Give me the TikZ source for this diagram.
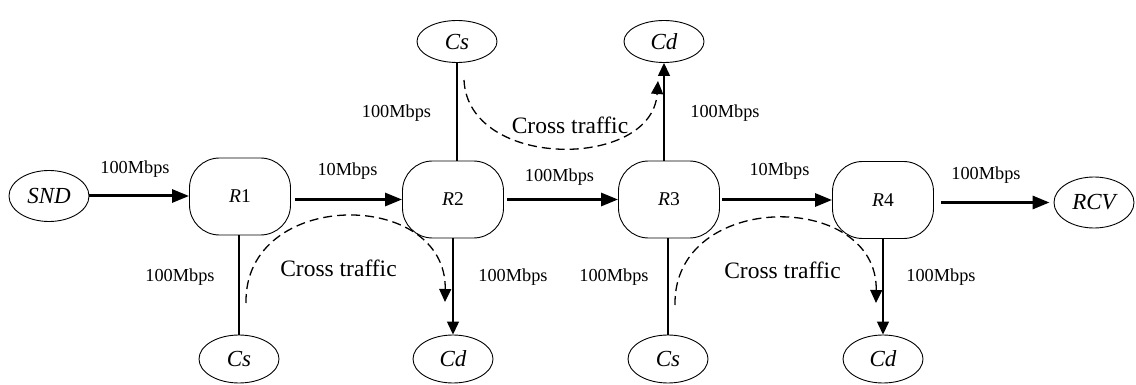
\documentclass[tikz,border=0pt]{standalone}
\usepackage{fontspec}
\setmainfont{Liberation Serif}
\usetikzlibrary{shapes.geometric,arrows.meta}
\begin{document}
\begin{tikzpicture}[x=1pt,y=-1pt,
  ell/.style={draw,ellipse,line width=0.9pt,minimum width=80pt,minimum height=#1,inner sep=0pt,font=\fontsize{23}{26}\selectfont\itshape},
  ell/.default=46pt,
  router/.style={draw,rounded corners=30pt,line width=0.9pt,minimum width=101pt,minimum height=77pt,inner sep=0pt,font=\fontsize{19.5}{22}\selectfont},
  rate/.style={inner sep=0pt,font=\fontsize{18.3}{21}\selectfont},
  cross/.style={inner sep=0pt,font=\fontsize{23.5}{26}\selectfont},
  link/.style={line width=3pt,-{Triangle[length=17pt,width=13pt]}},
  vlink/.style={line width=1.3pt},
  varrow/.style={line width=1.3pt,-{Triangle[length=13pt,width=12pt]}},
  traffic/.style={line width=1.3pt,dash pattern=on 9pt off 5pt,-{Triangle[length=13pt,width=12pt]}}
]
\useasboundingbox (0,0) rectangle (1136,385);

% nodes
\node[ell=51pt] (snd) at (49,196) {SND};
\node[router] (r1) at (240,196.5) {\textit{R}1};
\node[router] (r2) at (453,199.5) {\textit{R}2};
\node[router] (r3) at (669,199.5) {\textit{R}3};
\node[router] (r4) at (883,200) {\textit{R}4};
\node[ell=51pt] (rcv) at (1094,202.5) {RCV};
\node[ell=42pt] (cst) at (457,41.5) {Cs};
\node[ell=42pt] (cdt) at (664,41.5) {Cd};
\node[ell=48pt] (csb1) at (239,359) {Cs};
\node[ell=48pt] (cdb1) at (453,359) {Cd};
\node[ell=48pt] (csb2) at (668,359) {Cs};
\node[ell=48pt] (cdb2) at (883,359) {Cd};

% main path
\draw[link] (snd.east) -- (snd.east -| r1.west);
\draw[link,shorten <=4pt] (r1.east |- r2.west) -- (r2.west);
\draw[link,shorten <=3pt] (r2.east) -- (r3.west |- r2.east);
\draw[link,shorten <=2pt] (r3.east |- r4.west) -- (r4.west);
\draw[link,shorten <=7pt,shorten >=4pt] (r4.east |- rcv.west) -- (rcv.west);

% cross links
\draw[vlink] (cst.south) -- (cst.south |- r2.north);
\draw[varrow] (cdt.south |- r3.north) -- (cdt.south);
\draw[vlink] (csb1.north |- r1.south) -- (csb1.north);
\draw[varrow] (cdb1.north |- r2.south) -- (cdb1.north);
\draw[vlink] (csb2.north |- r3.south) -- (csb2.north);
\draw[varrow] (cdb2.north |- r4.south) -- (cdb2.north);

% cross traffic curves
\coordinate (t0) at (464,80);
\coordinate (t1) at (658,81);
\draw[traffic] (t0) .. controls (468,170) and (652,170) .. (t1);
\coordinate (b0) at (246,303);
\coordinate (b1) at (445,302);
\draw[traffic] (b0) .. controls (244,188) and (447,188) .. (b1);
\coordinate (c0) at (675,305);
\coordinate (c1) at (876,303);
\draw[traffic] (c0) .. controls (673,190) and (878,190) .. (c1);

% labels
\node[rate] (la) at (135,169) {100Mbps};
\node[rate] (lb) at (347.5,171) {10Mbps};
\node[rate] (lc) at (559.5,177) {100Mbps};
\node[rate] (ld) at (779.5,171) {10Mbps};
\node[rate] (le) at (986,175.5) {100Mbps};
\node[rate] (lf) at (396.5,113) {100Mbps};
\node[rate] (lg) at (725,113) {100Mbps};
\node[rate] (lh) at (180,277) {100Mbps};
\node[rate] (li) at (513,277) {100Mbps};
\node[rate] (lj) at (614,277) {100Mbps};
\node[rate] (lk) at (941,277) {100Mbps};
\node[cross] (xt) at (570,125) {Cross traffic};
\node[cross] (x1) at (338.5,268) {Cross traffic};
\node[cross] (x2) at (782.5,270) {Cross traffic};
\end{tikzpicture}
\end{document}
